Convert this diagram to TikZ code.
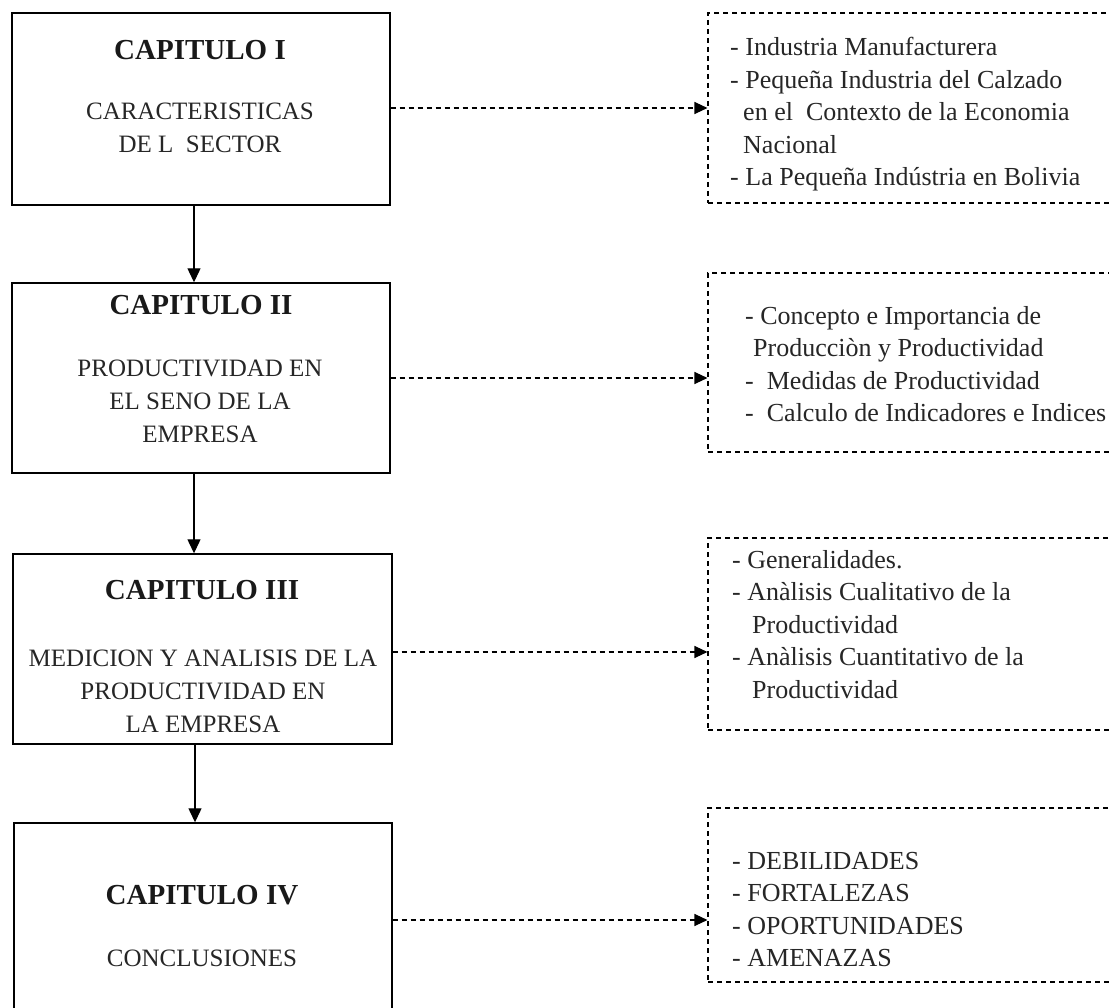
\documentclass[tikz,border=0pt]{standalone}
\usepackage{fontspec}
\setmainfont{Liberation Serif}
\usetikzlibrary{arrows.meta}

\begin{document}
\begin{tikzpicture}[x=1pt,y=-1pt,
  chapbox/.style={draw, line width=1.4pt, inner sep=0pt},
  topicbox/.style={draw, line width=1.1pt, dash pattern=on 5pt off 4pt, inner sep=0pt},
  headtext/.style={anchor=north, inner sep=0pt, text=black!90, font=\fontsize{29}{34}\selectfont\bfseries},
  subtext/.style={anchor=north, inner sep=0pt, align=center, text=black!85, font=\fontsize{25}{33}\selectfont},
  listtext/.style={anchor=north west, inner sep=0pt, align=left, text=black!85, font=\fontsize{26}{32.5}\selectfont},
  flow/.style={line width=1.2pt, -{Triangle[length=14pt,width=13pt]}},
  link/.style={line width=1.1pt, dash pattern=on 5pt off 4pt, -{Triangle[length=13pt,width=12pt]}}
]
\useasboundingbox (0,0) rectangle (1109,1008);
\clip (0,0) rectangle (1109,1008);

% chapter boxes
\node[chapbox, minimum width=378pt, minimum height=192pt] (c1) at (201,109) {};
\node[chapbox, minimum width=378pt, minimum height=190pt] (c2) at (201,378) {};
\node[chapbox, minimum width=379pt, minimum height=190pt] (c3) at (202.5,649) {};
\node[chapbox, minimum width=378pt, minimum height=200pt] (c4) at (203,923) {};

% chapter titles
\node[headtext] (h1) at (200,40) {CAPITULO I};
\node[subtext]  (s1) at (200,103) {CARACTERISTICAS\\DE L\ \ SECTOR};
\node[headtext] (h2) at (201,295) {CAPITULO II};
\node[subtext]  (s2) at (200,360) {PRODUCTIVIDAD EN\\EL SENO DE LA\\EMPRESA};
\node[headtext] (h3) at (202,580) {CAPITULO III};
\node[subtext]  (s3) at (203,650) {MEDICION Y ANALISIS DE LA\\PRODUCTIVIDAD EN\\LA EMPRESA};
\node[headtext] (h4) at (202,885) {CAPITULO IV};
\node[subtext]  (s4) at (202,950) {CONCLUSIONES};

% topic boxes (open towards the right edge)
\node[topicbox, minimum width=410pt, minimum height=190pt] (r1) at (913,108) {};
\node[topicbox, minimum width=410pt, minimum height=179pt] (r2) at (913,362.5) {};
\node[topicbox, minimum width=410pt, minimum height=192pt] (r3) at (913,634) {};
\node[topicbox, minimum width=410pt, minimum height=174pt] (r4) at (913,895) {};

% topic lists
\node[listtext] (t1) at (730,37) {- Industria Manufacturera\\- Pequeña Industria del Calzado\\\hspace*{13pt}en el\ \ Contexto de la Economia\\\hspace*{13pt}Nacional\\- La Pequeña Indústria en Bolivia};
\node[listtext] (t2) at (745,306) {- Concepto e Importancia de\\\hspace*{8pt}Producciòn y Productividad\\-\ \ Medidas de Productividad\\-\ \ Calculo de Indicadores e Indices};
\node[listtext] (t3) at (732,550) {- Generalidades.\\- Anàlisis Cualitativo de la\\\hspace*{20pt}Productividad\\- Anàlisis Cuantitativo de la\\\hspace*{20pt}Productividad};
\node[listtext] (t4) at (732,852) {- DEBILIDADES\\- FORTALEZAS\\- OPORTUNIDADES\\- AMENAZAS};

% flow between chapters
\draw[flow] (c1.south -| 194,0) -- (c2.north -| 194,0);
\draw[flow] (c2.south -| 194,0) -- (c3.north -| 194,0);
\draw[flow] (c3.south -| 195,0) -- (c4.north -| 195,0);

% links from chapters to their topics
\draw[link] (c1.east |- 0,108) -- (r1.west |- 0,108);
\draw[link] (c2.east |- 0,378) -- (r2.west |- 0,378);
\draw[link] (c3.east |- 0,652) -- (r3.west |- 0,652);
\draw[link] (c4.east |- 0,920) -- (r4.west |- 0,920);
\end{tikzpicture}
\end{document}
